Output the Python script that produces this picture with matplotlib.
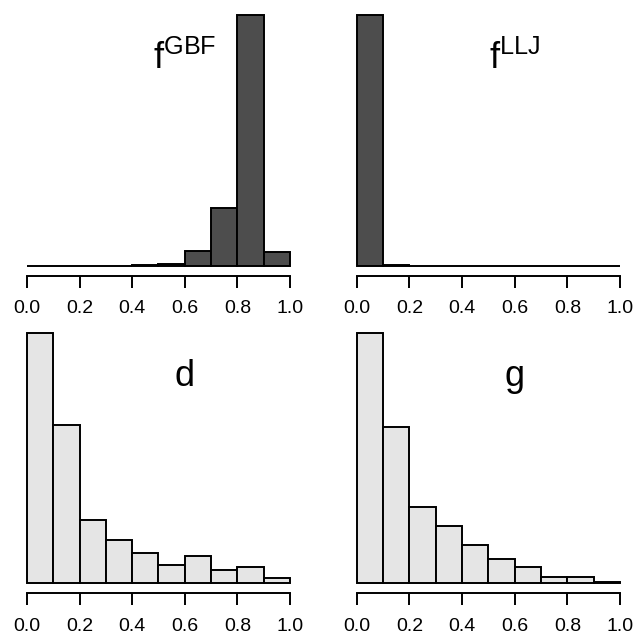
import matplotlib
matplotlib.use("Agg")
import matplotlib.pyplot as plt

plt.rcParams['font.family'] = ['Liberation Sans', 'DejaVu Sans']
plt.rcParams['mathtext.fontset'] = 'custom'
plt.rcParams['mathtext.rm'] = 'Liberation Sans'

# bin edges shared by all four histograms
bin_edges = [0.0, 0.1, 0.2, 0.3, 0.4, 0.5, 0.6, 0.7, 0.8, 0.9, 1.0]
tick_vals = [0.0, 0.2, 0.4, 0.6, 0.8, 1.0]
tick_labels = ['0.0', '0.2', '0.4', '0.6', '0.8', '1.0']

# bar heights (relative counts)
f_gbf = [0, 0, 0, 0, 5, 7, 60, 231, 1000, 55]
f_llj = [1000, 3, 0, 0, 0, 0, 0, 0, 0, 0]
d_vals = [1000, 633, 253, 173, 120, 72, 107, 53, 67, 21]
g_vals = [1000, 623, 303, 229, 154, 96, 67, 27, 27, 4]

panels = [
    (f_gbf, r'$\mathrm{f^{GBF}}$', '#4d4d4d', [0.026, 0.568, 0.4472, 0.4247]),
    (f_llj, r'$\mathrm{f^{LLJ}}$', '#4d4d4d', [0.5452, 0.568, 0.4477, 0.4247]),
    (d_vals, 'd', '#e5e5e5', [0.026, 0.0715, 0.4472, 0.4235]),
    (g_vals, 'g', '#e5e5e5', [0.5452, 0.0715, 0.4477, 0.4235]),
]

fig = plt.figure(figsize=(6.35, 6.39), dpi=100)

for heights, label, color, rect in panels:
    ax = fig.add_axes(rect)
    lefts = bin_edges[:-1]
    widths = [b - a for a, b in zip(bin_edges[:-1], bin_edges[1:])]
    ax.bar(lefts, heights, width=widths, align='edge', color=color,
           edgecolor='black', linewidth=1.4)
    top = max(heights)
    ax.set_xlim(-0.04, 1.04)
    ax.set_ylim(-0.04 * top, 1.04 * top)
    for s in ['top', 'right', 'left']:
        ax.spines[s].set_visible(False)
    ax.spines['bottom'].set_bounds(0, 1)
    ax.spines['bottom'].set_linewidth(1.4)
    ax.set_xticks(tick_vals)
    ax.set_xticklabels(tick_labels)
    ax.tick_params(axis='x', length=8.5, width=1.4, pad=9, labelsize=14)
    ax.set_yticks([])
    ax.patch.set_alpha(0)
    ax.text(0.6, 0.825 * top, label, fontsize=26, ha='center', va='center')

fig.savefig('out.png', dpi=100)
